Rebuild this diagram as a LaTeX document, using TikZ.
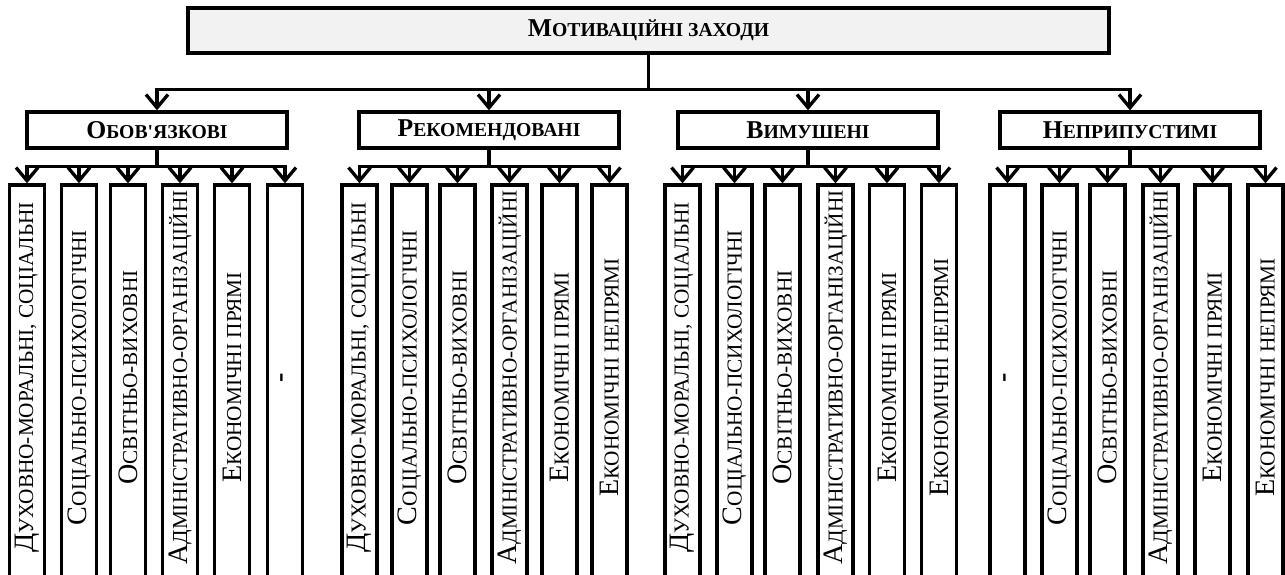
\documentclass[tikz,border=0pt]{standalone}
\usepackage{fontspec}
\usepackage{graphicx}
\usetikzlibrary{arrows.meta}
\newfontfamily\tnr{Liberation Serif}
\definecolor{titlefill}{HTML}{F2F2F2}
\newcommand{\fakesc}[2]{{\fontsize{14.6}{15}\selectfont #1}{\fontsize{11.2}{12}\selectfont #2}}
\newcommand{\subsc}[2]{\hspace{0.2cm}{\fontsize{16}{17}\selectfont #1}{\fontsize{12.1}{13}\selectfont #2}}

\begin{document}
\begin{tikzpicture}[
  font=\tnr,
  line width=1.9pt,
  topbox/.style={draw, fill=titlefill, minimum width=18.42cm, minimum height=0.9cm, font=\tnr\bfseries},
  groupbox/.style={draw, minimum width=5.2cm, minimum height=0.72cm, font=\tnr\bfseries},
  subbox/.style={draw, minimum width=0.7cm, minimum height=7.9cm, inner sep=0pt},
  arrow/.style={-{Straight Barb[length=7.5pt, width=12.5pt]}},
]
\useasboundingbox (0,0) rectangle (25.7,-11.5);

\node[topbox] (zakhody) at (12.97,-0.61) {\fakesc{М}{ОТИВАЦІЙНІ ЗАХОДИ}};

\node[groupbox] (obov) at (3.14,-2.6) {\fakesc{О}{БОВ'ЯЗКОВІ}};
\node[groupbox] (rekom) at (9.78,-2.6) {\fakesc{Р}{ЕКОМЕНДОВАНІ}};
\node[groupbox] (vymush) at (16.16,-2.6) {\fakesc{В}{ИМУШЕНІ}};
\node[groupbox] (nepryp) at (22.6,-2.6) {\fakesc{Н}{ЕПРИПУСТИМІ}};

% obov'iazkovi
\node[subbox] (obov1) at (0.54,-7.65) {\rotatebox{90}{\subsc{Д}{УХОВНО-МОРАЛЬНІ, СОЦІАЛЬНІ}}};
\node[subbox] (obov2) at (1.58,-7.65) {\rotatebox{90}{\subsc{С}{ОЦІАЛЬНО-ПСИХОЛОГІЧНІ}}};
\node[subbox] (obov3) at (2.56,-7.65) {\rotatebox{90}{\subsc{О}{СВІТНЬО-ВИХОВНІ}}};
\node[subbox] (obov4) at (3.60,-7.65) {\rotatebox{90}{\subsc{А}{ДМІНІСТРАТИВНО-ОРГАНІЗАЦІЙНІ}}};
\node[subbox] (obov5) at (4.64,-7.65) {\rotatebox{90}{\subsc{Е}{КОНОМІЧНІ ПРЯМІ}}};
\node[subbox] (obov6) at (5.70,-7.65) {\rotatebox{90}{\subsc{\bfseries -}{}}};

% rekomendovani
\node[subbox] (rekom1) at (7.19,-7.65) {\rotatebox{90}{\subsc{Д}{УХОВНО-МОРАЛЬНІ, СОЦІАЛЬНІ}}};
\node[subbox] (rekom2) at (8.19,-7.65) {\rotatebox{90}{\subsc{С}{ОЦІАЛЬНО-ПСИХОЛОГІЧНІ}}};
\node[subbox] (rekom3) at (9.15,-7.65) {\rotatebox{90}{\subsc{О}{СВІТНЬО-ВИХОВНІ}}};
\node[subbox] (rekom4) at (10.19,-7.65) {\rotatebox{90}{\subsc{А}{ДМІНІСТРАТИВНО-ОРГАНІЗАЦІЙНІ}}};
\node[subbox] (rekom5) at (11.19,-7.65) {\rotatebox{90}{\subsc{Е}{КОНОМІЧНІ ПРЯМІ}}};
\node[subbox] (rekom6) at (12.19,-7.65) {\rotatebox{90}{\subsc{Е}{КОНОМІЧНІ НЕПРЯМІ}}};

% vymusheni
\node[subbox] (vymush1) at (13.65,-7.65) {\rotatebox{90}{\subsc{Д}{УХОВНО-МОРАЛЬНІ, СОЦІАЛЬНІ}}};
\node[subbox] (vymush2) at (14.69,-7.65) {\rotatebox{90}{\subsc{С}{ОЦІАЛЬНО-ПСИХОЛОГІЧНІ}}};
\node[subbox] (vymush3) at (15.65,-7.65) {\rotatebox{90}{\subsc{О}{СВІТНЬО-ВИХОВНІ}}};
\node[subbox] (vymush4) at (16.71,-7.65) {\rotatebox{90}{\subsc{А}{ДМІНІСТРАТИВНО-ОРГАНІЗАЦІЙНІ}}};
\node[subbox] (vymush5) at (17.74,-7.65) {\rotatebox{90}{\subsc{Е}{КОНОМІЧНІ ПРЯМІ}}};
\node[subbox] (vymush6) at (18.78,-7.65) {\rotatebox{90}{\subsc{Е}{КОНОМІЧНІ НЕПРЯМІ}}};

% nepryputymi
\node[subbox] (nepryp1) at (20.15,-7.65) {\rotatebox{90}{\subsc{\bfseries -}{}}};
\node[subbox] (nepryp2) at (21.19,-7.65) {\rotatebox{90}{\subsc{С}{ОЦІАЛЬНО-ПСИХОЛОГІЧНІ}}};
\node[subbox] (nepryp3) at (22.15,-7.65) {\rotatebox{90}{\subsc{О}{СВІТНЬО-ВИХОВНІ}}};
\node[subbox] (nepryp4) at (23.21,-7.65) {\rotatebox{90}{\subsc{А}{ДМІНІСТРАТИВНО-ОРГАНІЗАЦІЙНІ}}};
\node[subbox] (nepryp5) at (24.25,-7.65) {\rotatebox{90}{\subsc{Е}{КОНОМІЧНІ ПРЯМІ}}};
\node[subbox] (nepryp6) at (25.31,-7.65) {\rotatebox{90}{\subsc{Е}{КОНОМІЧНІ НЕПРЯМІ}}};

\draw[arrow] (zakhody.south) -- ++(0,-0.7) -| (obov.north);
\draw[arrow] (zakhody.south) -- ++(0,-0.7) -| (rekom.north);
\draw[arrow] (zakhody.south) -- ++(0,-0.7) -| (vymush.north);
\draw[arrow] (zakhody.south) -- ++(0,-0.7) -| (nepryp.north);

\draw[arrow] (obov.south) -- ++(0,-0.34) -| (obov1.north);
\draw[arrow] (obov.south) -- ++(0,-0.34) -| (obov2.north);
\draw[arrow] (obov.south) -- ++(0,-0.34) -| (obov3.north);
\draw[arrow] (obov.south) -- ++(0,-0.34) -| (obov4.north);
\draw[arrow] (obov.south) -- ++(0,-0.34) -| (obov5.north);
\draw[arrow] (obov.south) -- ++(0,-0.34) -| (obov6.north);

\draw[arrow] (rekom.south) -- ++(0,-0.34) -| (rekom1.north);
\draw[arrow] (rekom.south) -- ++(0,-0.34) -| (rekom2.north);
\draw[arrow] (rekom.south) -- ++(0,-0.34) -| (rekom3.north);
\draw[arrow] (rekom.south) -- ++(0,-0.34) -| (rekom4.north);
\draw[arrow] (rekom.south) -- ++(0,-0.34) -| (rekom5.north);
\draw[arrow] (rekom.south) -- ++(0,-0.34) -| (rekom6.north);

\draw[arrow] (vymush.south) -- ++(0,-0.34) -| (vymush1.north);
\draw[arrow] (vymush.south) -- ++(0,-0.34) -| (vymush2.north);
\draw[arrow] (vymush.south) -- ++(0,-0.34) -| (vymush3.north);
\draw[arrow] (vymush.south) -- ++(0,-0.34) -| (vymush4.north);
\draw[arrow] (vymush.south) -- ++(0,-0.34) -| (vymush5.north);
\draw[arrow] (vymush.south) -- ++(0,-0.34) -| (vymush6.north);

\draw[arrow] (nepryp.south) -- ++(0,-0.34) -| (nepryp1.north);
\draw[arrow] (nepryp.south) -- ++(0,-0.34) -| (nepryp2.north);
\draw[arrow] (nepryp.south) -- ++(0,-0.34) -| (nepryp3.north);
\draw[arrow] (nepryp.south) -- ++(0,-0.34) -| (nepryp4.north);
\draw[arrow] (nepryp.south) -- ++(0,-0.34) -| (nepryp5.north);
\draw[arrow] (nepryp.south) -- ++(0,-0.34) -| (nepryp6.north);
\end{tikzpicture}
\end{document}
